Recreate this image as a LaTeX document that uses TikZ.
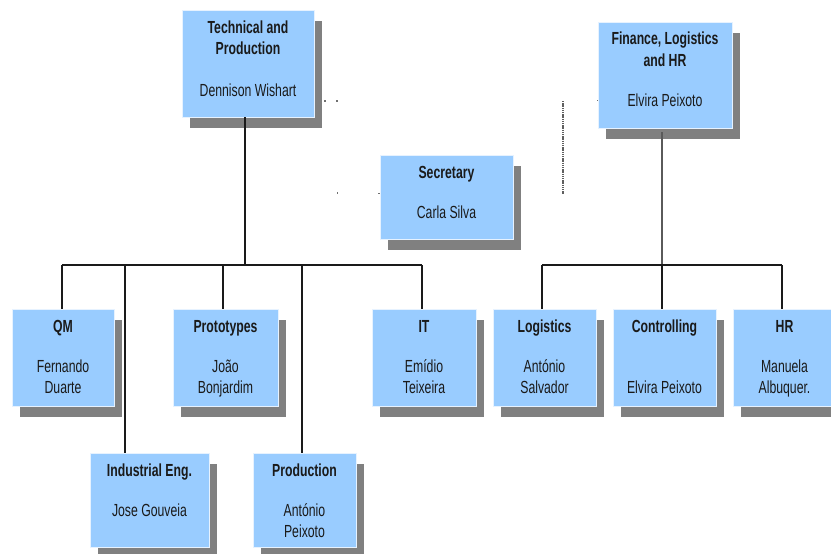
\documentclass[tikz,border=0pt]{standalone}
\usepackage{fontspec}
\setmainfont{Liberation Sans}[FakeStretch=0.7]
\usetikzlibrary{shadows}

\definecolor{unitblue}{HTML}{99CCFF}
\definecolor{unitedge}{HTML}{E6F2FF}
\definecolor{shade}{HTML}{808080}
\definecolor{ink}{HTML}{1A1A1A}
\definecolor{faint}{HTML}{707070}

% one centred column whose baseline is that of its first row
\newcommand\stackrows[1]{\begin{tabular}[t]{@{}c@{}}#1\end{tabular}}

% #1 name, #2 left, #3 top, #4 right, #5 bottom, #6 unit, #7 person, #8 person baseline below top
\newcommand\orgunit[8]{%
  \node[unitbox, minimum width={#4-#2}, minimum height={#5-#3}] (#1)
    at ({(#2+#4)/2},{(#3+#5)/2}) {};
  \node[unittitle] (#1-title) at ({(#2+#4)/2},{#3+23}) {\stackrows{#6}};
  \node[unitname] (#1-name) at ({(#2+#4)/2},{#3+#8}) {\stackrows{#7}};
}

\tikzset{
  unitbox/.style={rectangle, fill=unitblue, draw=unitedge, line width=0.7pt,
    inner sep=0pt,
    drop shadow={shadow xshift=8pt, shadow yshift=-11pt, fill=shade, opacity=1}},
  unittext/.style={inner sep=0pt, anchor=base, text=ink,
    font=\fontsize{17.5}{21}\selectfont},
  unittitle/.style={unittext, font=\fontsize{17.5}{21}\selectfont\bfseries},
  unitname/.style={unittext},
  bus/.style={draw=ink, line width=1.8pt},
  link/.style={draw=ink, line width=1.3pt},
  softlink/.style={draw=faint!80!black, line width=1.3pt},
  dotline/.style={draw=faint!85!black, line width=2.2pt, dash pattern=on 1.3pt off 0.9pt},
  speck/.style={fill=faint},
}

\begin{document}
\begin{tikzpicture}[x=1pt, y=-1pt]
\useasboundingbox (0,0) rectangle (831,554);

% ---- units ----
\orgunit{tech}{182}{10}{314}{117}{Technical and\\Production}{Dennison Wishart}{86}
\orgunit{fin}{598}{22}{732}{128}{Finance, Logistics\\and HR}{Elvira Peixoto}{84}
\orgunit{sec}{380}{155}{513}{239}{Secretary}{Carla Silva}{63}
\orgunit{qm}{12}{309}{114}{406}{QM}{Fernando\\Duarte}{63}
\orgunit{proto}{173}{309}{278}{406}{Prototypes}{João\\Bonjardim}{63}
\orgunit{it}{372}{309}{476}{406}{IT}{Emídio\\Teixeira}{63}
\orgunit{logi}{493}{309}{596}{406}{Logistics}{António\\Salvador}{63}
\orgunit{ctrl}{613}{309}{716}{406}{Controlling}{Elvira Peixoto}{84}
\orgunit{hr}{733}{309}{836}{406}{HR}{Manuela\\Albuquer.}{63}
\orgunit{ind}{90}{453}{209}{547}{Industrial Eng.}{Jose Gouveia}{63}
\orgunit{prod}{253}{453}{356}{547}{Production}{António\\Peixoto}{63}

% ---- bus junctions ----
\coordinate (jtech) at (245,265);
\coordinate (bqm) at (62,265);
\coordinate (bind) at (125,265);
\coordinate (bproto) at (223,265);
\coordinate (bprod) at (302,265);
\coordinate (bit) at (422,265);
\coordinate (jfin) at (662,265);
\coordinate (blogi) at (542,265);
\coordinate (bctrl) at (662,265);
\coordinate (bhr) at (782,265);

% ---- technical branch ----
\draw[link] (tech.south -| jtech) -- (jtech);
\draw[bus] (bqm) -- (bit);
\draw[link] (bqm) -- (bqm |- qm.north);
\draw[link] (bind) -- (bind |- ind.north);
\draw[link] (bproto) -- (bproto |- proto.north);
\draw[link] (bprod) -- (bprod |- prod.north);
\draw[link] (bit) -- (bit |- it.north);

% ---- finance branch ----
\draw[softlink] ([yshift=-4pt]fin.south -| jfin) -- (jfin);
\draw[bus] (blogi) -- (bhr);
\draw[link] (blogi) -- (blogi |- logi.north);
\draw[link] (bctrl) -- (bctrl |- ctrl.north);
\draw[link] (bhr) -- (bhr |- hr.north);

% ---- dotted staff line and stray marks ----
\coordinate (dtop) at (563,101);
\coordinate (dbot) at (563,194);
\draw[dotline] (dtop) -- (dbot);
\fill[speck] (324,100) rectangle (326,102);
\fill[speck] (336,100) rectangle (338,102);
\fill[speck] (336.5,192) rectangle (337.5,194);
\fill[speck] (378,192.5) rectangle (380,193.5);
\fill[speck] (597,99.5) rectangle (598,100.5);
\end{tikzpicture}
\end{document}
